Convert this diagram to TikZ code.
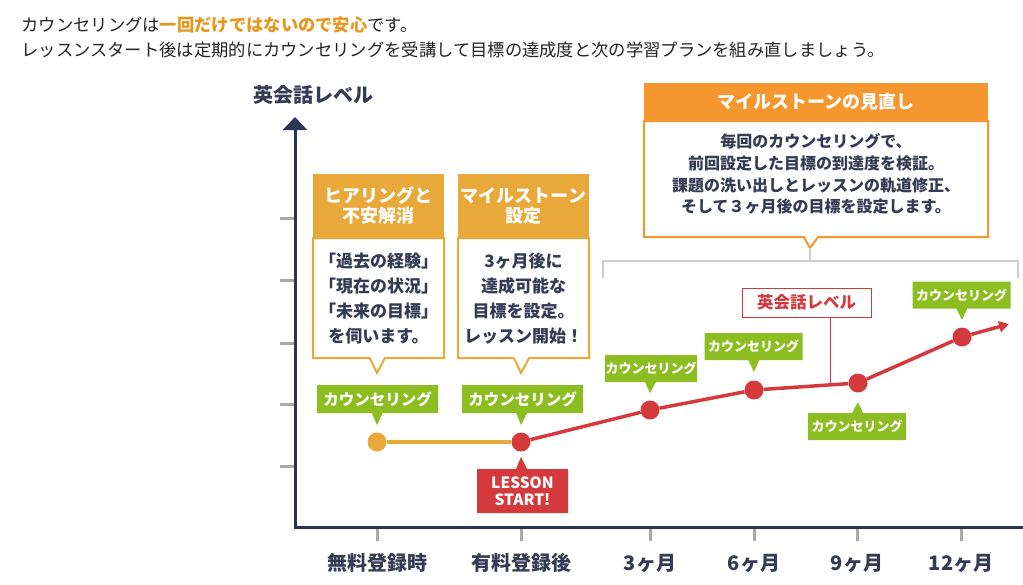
\documentclass[tikz,border=0pt]{standalone}
\usepackage{fontspec}
\setmainfont{Noto Sans CJK JP}
\usetikzlibrary{arrows.meta,calc,positioning,shapes.callouts}
\definecolor{navy}{HTML}{2B3455}
\definecolor{navytext}{HTML}{333B55}
\definecolor{textdark}{HTML}{222222}
\definecolor{hilite}{HTML}{E8961E}
\definecolor{gold}{HTML}{E8A93A}
\definecolor{milestone}{HTML}{F5962E}
\definecolor{leaf}{HTML}{8CBE22}
\definecolor{crimson}{HTML}{D43A3C}
\definecolor{tickgray}{HTML}{A9A9A9}
\definecolor{bracketgray}{HTML}{CDCDCD}

\begin{document}
\begin{tikzpicture}[x=1pt,y=-1pt,
  axis/.style={navy,line width=3pt},
  tick/.style={tickgray,line width=3pt},
  dot/.style={circle,fill=crimson,minimum size=19pt,inner sep=0pt},
  counsel/.style={rectangle callout,fill=leaf,text=white,inner sep=0pt,minimum width=121pt,minimum height=28pt,callout pointer width=11pt,font=\fontsize{15.5}{18}\selectfont\bfseries},
  counselsm/.style={counsel,minimum width=98pt,minimum height=27pt,font=\fontsize{13}{15}\selectfont\bfseries},
  head/.style={fill=gold,text=white,align=center,inner sep=0pt,minimum width=131pt,minimum height=63pt,font=\fontsize{18}{20}\selectfont\bfseries},
  body/.style={rectangle callout,draw=gold,line width=2pt,fill=white,text=navytext,align=center,inner sep=0pt,minimum width=131pt,minimum height=120pt,callout pointer width=15pt,font=\fontsize{17}{25}\selectfont\bfseries},
  xlabel/.style={text=navytext,font=\fontsize{20}{22}\selectfont\bfseries},
  trend/.style={crimson,line width=3.5pt},
  bracket/.style={bracketgray,line width=2.5pt},
]
\useasboundingbox (0,0) rectangle (1023,584);

% intro text
\node[anchor=west,text=textdark,font=\fontsize{17.3}{20}\selectfont] (intro1) at (18,25) {カウンセリングは{\bfseries\color{hilite}一回だけではないので安心}です。};
\node[anchor=west,text=textdark,font=\fontsize{17.3}{20}\selectfont] (intro2) at (18,50) {レッスンスタート後は定期的にカウンセリングを受講して目標の達成度と次の学習プランを組み直しましょう。};

% axes
\coordinate (o) at (295,527);
\coordinate (ytop) at (295,117);
\coordinate (xend) at (1023,527);
\node[anchor=west,text=navytext,font=\fontsize{20}{22}\selectfont\bfseries] (ytitle) at (250,95) {英会話レベル};
\foreach \y in {218,280,343,404,466}
  \draw[tick] (280,\y) -- (295,\y);
\foreach \x/\t in {377/無料登録時,521/有料登録後,650/3ヶ月,754/6ヶ月,857/9ヶ月,961/12ヶ月}{
  \draw[tick] (\x,527) -- (\x,541);
  \node[xlabel] (xl\x) at (\x,563) {\t};
}
\draw[axis,{Triangle[width=24pt,length=13pt]}-] (ytop) -- (o) -- (xend);

% level curve
\node[dot,fill=gold] (p0) at (377,442) {};
\node[dot] (p1) at (521,442) {};
\node[dot] (p2) at (650,410) {};
\node[dot] (p3) at (754,390) {};
\node[dot] (p4) at (858,383) {};
\node[dot] (p5) at (962,337) {};
\coordinate (tip) at (1009,324);
\draw[gold,line width=4pt] (p0) -- (p1);
\draw[trend] (p1) -- (p2) -- (p3) -- (p4) -- (p5);
\draw[trend,-{Triangle[width=11pt,length=10pt]}] (p5) -- (tip);

% counseling labels
\node[counsel,callout absolute pointer={($(p0)+(0,-17)$)}] (c0) at (377.5,399) {カウンセリング};
\node[counsel,callout absolute pointer={($(p1)+(0,-17)$)}] (c1) at (522.5,399) {カウンセリング};
\node[counselsm,minimum width=92pt,callout absolute pointer={($(p2)+(0,-17)$)}] (c2) at (651,368.5) {カウンセリング};
\node[counselsm,callout absolute pointer={($(p3)+(0,-18)$)}] (c3) at (753.5,346.5) {カウンセリング};
\node[counselsm,callout absolute pointer={($(p4)+(0,19)$)}] (c4) at (857,426.5) {カウンセリング};
\node[counselsm,callout absolute pointer={($(p5)+(0,-17)$)}] (c5) at (961.5,295) {カウンセリング};

\node[rectangle callout,fill=crimson,text=white,align=center,inner sep=0pt,minimum width=91pt,minimum height=44pt,callout pointer width=11pt,callout absolute pointer={($(p1)+(0,15)$)},font=\fontsize{15.5}{17}\selectfont\bfseries] (start) at (522.5,491) {LESSON\\START!};

% level tag
\node[draw=crimson,line width=1pt,fill=white,text=crimson,inner sep=0pt,minimum width=129pt,minimum height=29pt,font=\fontsize{16.5}{18}\selectfont\bfseries] (lvl) at (806.5,302.5) {英会話レベル};
\coordinate (lvpt) at ($(p3)!0.74!(p4)$);
\draw[crimson,line width=1pt] (lvpt |- lvl.south) -- (lvpt);

% first two steps
\node[head] (h1) at (378.5,205.5) {ヒアリングと\\不安解消};
\node[body,below=0pt of h1,callout absolute pointer={(377,373)}] (b1) {「過去の経験」\\「現在の状況」\\「未来の目標」\\を伺います。};
\node[head] (h2) at (523.5,205.5) {マイルストーン\\設定};
\node[body,below=0pt of h2,callout absolute pointer={(521,373)}] (b2) {3ヶ月後に\\達成可能な\\目標を設定。\\レッスン開始！};

% milestone review
\coordinate (mtip) at (810,248);
\node[fill=milestone,text=white,inner sep=0pt,minimum width=344pt,minimum height=37pt,font=\fontsize{18}{20}\selectfont\bfseries] (mhead) at (816,101.5) {マイルストーンの見直し};
\node[rectangle callout,draw=milestone,line width=2pt,fill=white,text=navytext,align=center,inner sep=0pt,minimum width=344pt,minimum height=116pt,callout pointer width=14pt,callout absolute pointer=(mtip),text depth=12pt,font=\fontsize{16}{21.7}\selectfont\bfseries,below=0pt of mhead] (mbody) {毎回のカウンセリングで、\\前回設定した目標の到達度を検証。\\課題の洗い出しとレッスンの軌道修正、\\そして３ヶ月後の目標を設定します。};

\coordinate (brl) at (603,278);
\coordinate (brr) at (1018,278);
\coordinate (brmid) at (810,261);
\draw[bracket] (brl) |- (brmid) -| (brr);
\draw[bracket] (mtip) -- (brmid);
\end{tikzpicture}
\end{document}
